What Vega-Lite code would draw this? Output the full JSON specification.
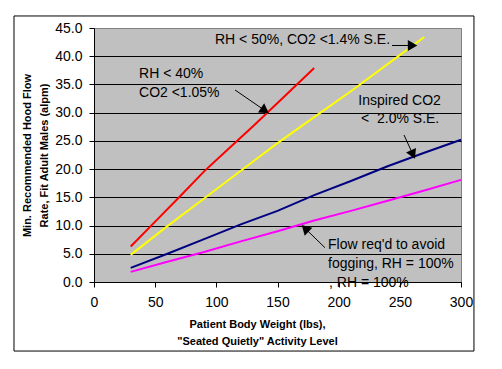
{
  "$schema": "https://vega.github.io/schema/vega-lite/v6.json",
  "width": 367,
  "height": 254,
  "autosize": {"type": "none"},
  "padding": {"left": 94, "top": 28, "right": 41, "bottom": 87},
  "background": "white",
  "datasets": {
    "series": [
      {"s": "RH < 40%", "w": 30, "f": 6.3}, {"s": "RH < 40%", "w": 50, "f": 10.7}, {"s": "RH < 40%", "w": 70, "f": 15.1},
      {"s": "RH < 40%", "w": 90, "f": 19.6}, {"s": "RH < 40%", "w": 110, "f": 23.6}, {"s": "RH < 40%", "w": 130, "f": 27.6},
      {"s": "RH < 40%", "w": 150, "f": 31.7}, {"s": "RH < 40%", "w": 165, "f": 34.8}, {"s": "RH < 40%", "w": 180, "f": 37.9},
      {"s": "RH < 50%", "w": 30, "f": 4.8}, {"s": "RH < 50%", "w": 60, "f": 9.9}, {"s": "RH < 50%", "w": 90, "f": 14.8},
      {"s": "RH < 50%", "w": 120, "f": 19.7}, {"s": "RH < 50%", "w": 150, "f": 24.6}, {"s": "RH < 50%", "w": 180, "f": 29.2},
      {"s": "RH < 50%", "w": 210, "f": 33.8}, {"s": "RH < 50%", "w": 240, "f": 38.6}, {"s": "RH < 50%", "w": 270, "f": 43.4},
      {"s": "Inspired CO2", "w": 30, "f": 2.5}, {"s": "Inspired CO2", "w": 60, "f": 5.0}, {"s": "Inspired CO2", "w": 90, "f": 7.6},
      {"s": "Inspired CO2", "w": 120, "f": 10.2}, {"s": "Inspired CO2", "w": 150, "f": 12.6}, {"s": "Inspired CO2", "w": 180, "f": 15.4},
      {"s": "Inspired CO2", "w": 210, "f": 17.9}, {"s": "Inspired CO2", "w": 240, "f": 20.5}, {"s": "Inspired CO2", "w": 270, "f": 22.9},
      {"s": "Inspired CO2", "w": 300, "f": 25.2},
      {"s": "Fogging", "w": 30, "f": 1.8}, {"s": "Fogging", "w": 60, "f": 3.6}, {"s": "Fogging", "w": 90, "f": 5.3},
      {"s": "Fogging", "w": 120, "f": 7.2}, {"s": "Fogging", "w": 150, "f": 9.0}, {"s": "Fogging", "w": 180, "f": 10.9},
      {"s": "Fogging", "w": 210, "f": 12.6}, {"s": "Fogging", "w": 240, "f": 14.4}, {"s": "Fogging", "w": 270, "f": 16.2},
      {"s": "Fogging", "w": 300, "f": 18.1}
    ],
    "notes": [
      {"label": "RH < 40%", "w": 36.8, "f": 36.85},
      {"label": "CO2 <1.05%", "w": 36.8, "f": 33.49},
      {"label": "RH < 50%, CO2 <1.4% S.E.", "w": 98.9, "f": 42.88},
      {"label": "Inspired CO2", "w": 216.1, "f": 32.12},
      {"label": "<\u00a0 2.0% S.E.", "w": 218.3, "f": 28.83},
      {"label": "Flow req'd to avoid", "w": 191.3, "f": 6.56},
      {"label": "fogging, RH = 100%", "w": 191.3, "f": 3.14},
      {"label": ", RH = 100%", "w": 192.1, "f": -0.23}
    ],
    "arrows": [
      {"id": 1, "w": 115.3, "f": 34.02, "w2": 138.7, "f2": 30.53},
      {"id": 2, "w": 243.6, "f": 41.9, "w2": 259.1, "f2": 41.9},
      {"id": 3, "w": 253.4, "f": 26.05, "w2": 260.2, "f2": 22.84},
      {"id": 4, "w": 188.8, "f": 6.08, "w2": 173.5, "f2": 9.30}
    ],
    "frame": [{"frame": 1}]
  },
  "layer": [
    {
      "data": {"name": "series"},
      "mark": {"type": "line", "strokeWidth": 2},
      "encoding": {
        "x": {"field": "w", "type": "quantitative", "scale": {"domain": [0, 300], "nice": false, "zero": false},
          "axis": {"values": [0, 50, 100, 150, 200, 250, 300], "grid": false, "labelPadding": 8, "labelFlush": false, "labelOverlap": false, "title": ["Patient Body Weight (lbs),", "\"Seated Quietly\" Activity Level"], "titlePadding": 9, "titleX": 163, "titleLineHeight": 17}},
        "y": {"field": "f", "type": "quantitative", "scale": {"domain": [0, 45], "nice": false, "zero": false},
          "axis": {"values": [0, 5, 10, 15, 20, 25, 30, 35, 40, 45], "format": ".1f", "grid": true, "gridColor": {"condition": {"test": "datum.value === 45", "value": "#808080"}, "value": "black"}, "labelPadding": 7, "labelFlush": false, "labelOverlap": false, "title": ["Min. Recommended Hood Flow", "Rate, Fit Adult Males (alpm)"], "titlePadding": 5, "titleLineHeight": 17}},
        "color": {
          "field": "s", "type": "nominal",
          "scale": {"domain": ["RH < 40%", "RH < 50%", "Inspired CO2", "Fogging"], "range": ["#FF0000", "#FFFF00", "#000080", "#FF00FF"]},
          "legend": null
        }
      }
    },
    {
      "data": {"name": "frame"},
      "mark": {"type": "rule", "color": "black", "strokeWidth": 1, "clip": false},
      "encoding": {
        "x": {"datum": -65.4, "type": "quantitative", "scale": {"domain": [0, 300], "nice": false, "zero": false},
          "axis": {"values": [0, 50, 100, 150, 200, 250, 300], "grid": false, "labelPadding": 8, "labelFlush": false, "labelOverlap": false, "title": ["Patient Body Weight (lbs),", "\"Seated Quietly\" Activity Level"], "titlePadding": 9, "titleX": 163, "titleLineHeight": 17}},
        "y": {"datum": 47.13, "type": "quantitative", "scale": {"domain": [0, 45], "nice": false, "zero": false},
          "axis": {"values": [0, 5, 10, 15, 20, 25, 30, 35, 40, 45], "format": ".1f", "grid": true, "gridColor": {"condition": {"test": "datum.value === 45", "value": "#808080"}, "value": "black"}, "labelPadding": 7, "labelFlush": false, "labelOverlap": false, "title": ["Min. Recommended Hood Flow", "Rate, Fit Adult Males (alpm)"], "titlePadding": 5, "titleLineHeight": 17}},
        "y2": {"datum": -12.23}
      }
    },
    {
      "data": {"name": "frame"},
      "mark": {"type": "rule", "color": "black", "strokeWidth": 1, "clip": false},
      "encoding": {
        "x": {"datum": 310.6, "type": "quantitative", "scale": {"domain": [0, 300], "nice": false, "zero": false},
          "axis": {"values": [0, 50, 100, 150, 200, 250, 300], "grid": false, "labelPadding": 8, "labelFlush": false, "labelOverlap": false, "title": ["Patient Body Weight (lbs),", "\"Seated Quietly\" Activity Level"], "titlePadding": 9, "titleX": 163, "titleLineHeight": 17}},
        "y": {"datum": 47.13, "type": "quantitative", "scale": {"domain": [0, 45], "nice": false, "zero": false},
          "axis": {"values": [0, 5, 10, 15, 20, 25, 30, 35, 40, 45], "format": ".1f", "grid": true, "gridColor": {"condition": {"test": "datum.value === 45", "value": "#808080"}, "value": "black"}, "labelPadding": 7, "labelFlush": false, "labelOverlap": false, "title": ["Min. Recommended Hood Flow", "Rate, Fit Adult Males (alpm)"], "titlePadding": 5, "titleLineHeight": 17}},
        "y2": {"datum": -12.23}
      }
    },
    {
      "data": {"name": "frame"},
      "mark": {"type": "rule", "color": "black", "strokeWidth": 1, "clip": false},
      "encoding": {
        "x": {"datum": -65.4, "type": "quantitative", "scale": {"domain": [0, 300], "nice": false, "zero": false},
          "axis": {"values": [0, 50, 100, 150, 200, 250, 300], "grid": false, "labelPadding": 8, "labelFlush": false, "labelOverlap": false, "title": ["Patient Body Weight (lbs),", "\"Seated Quietly\" Activity Level"], "titlePadding": 9, "titleX": 163, "titleLineHeight": 17}},
        "x2": {"datum": 310.6},
        "y": {"datum": 47.13, "type": "quantitative", "scale": {"domain": [0, 45], "nice": false, "zero": false},
          "axis": {"values": [0, 5, 10, 15, 20, 25, 30, 35, 40, 45], "format": ".1f", "grid": true, "gridColor": {"condition": {"test": "datum.value === 45", "value": "#808080"}, "value": "black"}, "labelPadding": 7, "labelFlush": false, "labelOverlap": false, "title": ["Min. Recommended Hood Flow", "Rate, Fit Adult Males (alpm)"], "titlePadding": 5, "titleLineHeight": 17}}
      }
    },
    {
      "data": {"name": "frame"},
      "mark": {"type": "rule", "color": "black", "strokeWidth": 1, "clip": false},
      "encoding": {
        "x": {"datum": -65.4, "type": "quantitative", "scale": {"domain": [0, 300], "nice": false, "zero": false},
          "axis": {"values": [0, 50, 100, 150, 200, 250, 300], "grid": false, "labelPadding": 8, "labelFlush": false, "labelOverlap": false, "title": ["Patient Body Weight (lbs),", "\"Seated Quietly\" Activity Level"], "titlePadding": 9, "titleX": 163, "titleLineHeight": 17}},
        "x2": {"datum": 310.6},
        "y": {"datum": -12.23, "type": "quantitative", "scale": {"domain": [0, 45], "nice": false, "zero": false},
          "axis": {"values": [0, 5, 10, 15, 20, 25, 30, 35, 40, 45], "format": ".1f", "grid": true, "gridColor": {"condition": {"test": "datum.value === 45", "value": "#808080"}, "value": "black"}, "labelPadding": 7, "labelFlush": false, "labelOverlap": false, "title": ["Min. Recommended Hood Flow", "Rate, Fit Adult Males (alpm)"], "titlePadding": 5, "titleLineHeight": 17}}
      }
    },
    {
      "data": {"name": "arrows"},
      "encoding": {
        "x": {"field": "w", "type": "quantitative", "scale": {"domain": [0, 300], "nice": false, "zero": false},
          "axis": {"values": [0, 50, 100, 150, 200, 250, 300], "grid": false, "labelPadding": 8, "labelFlush": false, "labelOverlap": false, "title": ["Patient Body Weight (lbs),", "\"Seated Quietly\" Activity Level"], "titlePadding": 9, "titleX": 163, "titleLineHeight": 17}},
        "y": {"field": "f", "type": "quantitative", "scale": {"domain": [0, 45], "nice": false, "zero": false},
          "axis": {"values": [0, 5, 10, 15, 20, 25, 30, 35, 40, 45], "format": ".1f", "grid": true, "gridColor": {"condition": {"test": "datum.value === 45", "value": "#808080"}, "value": "black"}, "labelPadding": 7, "labelFlush": false, "labelOverlap": false, "title": ["Min. Recommended Hood Flow", "Rate, Fit Adult Males (alpm)"], "titlePadding": 5, "titleLineHeight": 17}},
        "x2": {"field": "w2"},
        "y2": {"field": "f2"}
      },
      "mark": {"type": "rule", "color": "black", "strokeWidth": 1}
    },
    {
      "data": {"name": "arrows"},
      "encoding": {
        "x": {"field": "w2", "type": "quantitative", "scale": {"domain": [0, 300], "nice": false, "zero": false},
          "axis": {"values": [0, 50, 100, 150, 200, 250, 300], "grid": false, "labelPadding": 8, "labelFlush": false, "labelOverlap": false, "title": ["Patient Body Weight (lbs),", "\"Seated Quietly\" Activity Level"], "titlePadding": 9, "titleX": 163, "titleLineHeight": 17}},
        "y": {"field": "f2", "type": "quantitative", "scale": {"domain": [0, 45], "nice": false, "zero": false},
          "axis": {"values": [0, 5, 10, 15, 20, 25, 30, 35, 40, 45], "format": ".1f", "grid": true, "gridColor": {"condition": {"test": "datum.value === 45", "value": "#808080"}, "value": "black"}, "labelPadding": 7, "labelFlush": false, "labelOverlap": false, "title": ["Min. Recommended Hood Flow", "Rate, Fit Adult Males (alpm)"], "titlePadding": 5, "titleLineHeight": 17}}
      },
      "layer": [
        {"transform": [{"filter": "datum.id === 1"}], "mark": {"type": "point", "shape": "triangle", "filled": true, "color": "black", "size": 120, "angle": 124.5, "opacity": 1}},
        {"transform": [{"filter": "datum.id === 2"}], "mark": {"type": "point", "shape": "triangle", "filled": true, "color": "black", "size": 120, "angle": 90, "opacity": 1}},
        {"transform": [{"filter": "datum.id === 3"}], "mark": {"type": "point", "shape": "triangle", "filled": true, "color": "black", "size": 120, "angle": 155, "opacity": 1}},
        {"transform": [{"filter": "datum.id === 4"}], "mark": {"type": "point", "shape": "triangle", "filled": true, "color": "black", "size": 120, "angle": 314, "opacity": 1}}
      ]
    },
    {
      "data": {"name": "notes"},
      "mark": {"type": "text", "align": "left", "baseline": "middle", "fontSize": 14, "font": "Liberation Sans", "color": "black"},
      "encoding": {
        "x": {"field": "w", "type": "quantitative", "scale": {"domain": [0, 300], "nice": false, "zero": false},
          "axis": {"values": [0, 50, 100, 150, 200, 250, 300], "grid": false, "labelPadding": 8, "labelFlush": false, "labelOverlap": false, "title": ["Patient Body Weight (lbs),", "\"Seated Quietly\" Activity Level"], "titlePadding": 9, "titleX": 163, "titleLineHeight": 17}},
        "y": {"field": "f", "type": "quantitative", "scale": {"domain": [0, 45], "nice": false, "zero": false},
          "axis": {"values": [0, 5, 10, 15, 20, 25, 30, 35, 40, 45], "format": ".1f", "grid": true, "gridColor": {"condition": {"test": "datum.value === 45", "value": "#808080"}, "value": "black"}, "labelPadding": 7, "labelFlush": false, "labelOverlap": false, "title": ["Min. Recommended Hood Flow", "Rate, Fit Adult Males (alpm)"], "titlePadding": 5, "titleLineHeight": 17}},
        "text": {"field": "label"}
      }
    }
  ],
  "config": {
    "font": "Liberation Sans",
    "view": {"fill": "#C0C0C0", "stroke": "#808080"},
    "axis": {
      "domainColor": "black",
      "tickColor": "black",
      "labelColor": "black",
      "titleColor": "black",
      "labelFont": "Liberation Sans",
      "titleFont": "Liberation Sans",
      "labelFontSize": 14,
      "titleFontSize": 11,
      "titleFontWeight": "bold",
      "tickSize": 5
    }
  }
}
